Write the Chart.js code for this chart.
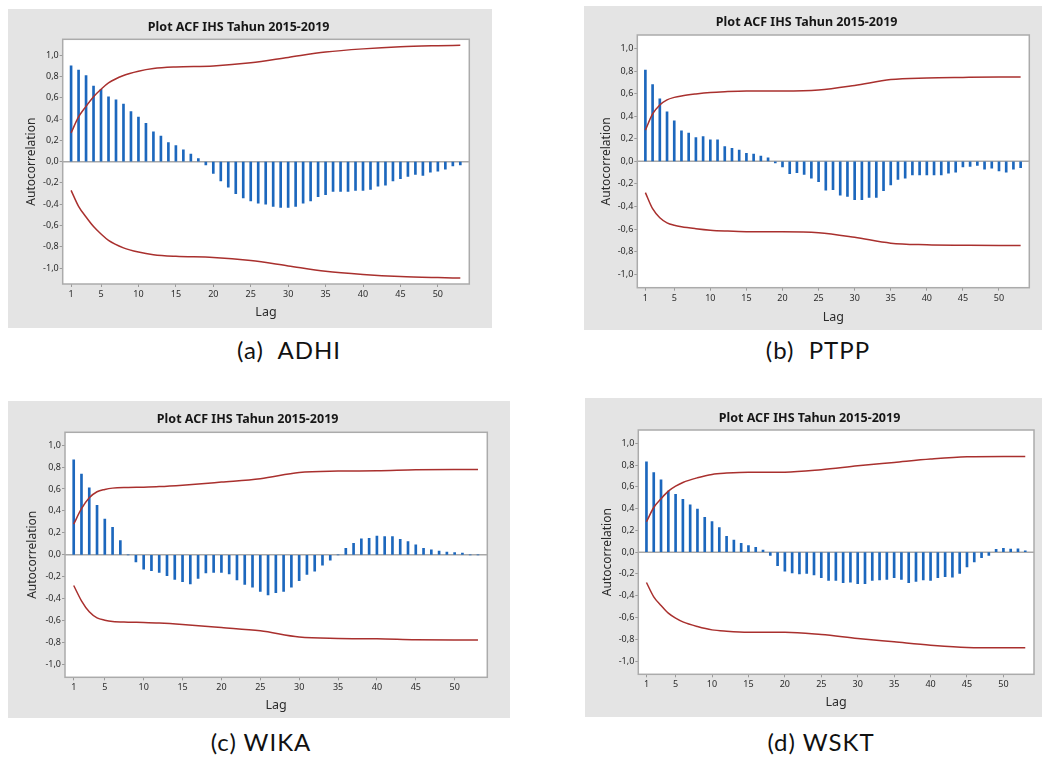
<!DOCTYPE html>
<html>
<head>
<meta charset="utf-8">
<script src="https://cdn.jsdelivr.net/npm/chart.js@4.4.1/dist/chart.umd.min.js"></script>
<style>
  html, body { margin: 0; padding: 0; background: #fff; }
  body { position: relative; width: 1042px; height: 757px; overflow: hidden; }
  .panel { position: absolute; background: #e4e4e4; }
  .panel canvas { position: absolute; left: 0; top: 0; }
  .caption { position: absolute; width: 300px; text-align: center; font-family: Lato, 'Noto Sans', sans-serif; font-size: 24px; line-height: 26px; letter-spacing: 1px; color: #111; white-space: pre; }
</style>
</head>
<body>
<script>
// ACF IHS 2015-2019, lag 1..53
const lags = [1, 2, 3, 4, 5, 6, 7, 8, 9, 10, 11, 12, 13, 14, 15, 16, 17, 18, 19, 20, 21, 22, 23, 24, 25, 26, 27,
  28, 29, 30, 31, 32, 33, 34, 35, 36, 37, 38, 39, 40, 41, 42, 43, 44, 45, 46, 47, 48, 49, 50, 51, 52, 53];

const acfADHI = [0.90, 0.86, 0.81, 0.71, 0.68, 0.61, 0.58, 0.54, 0.47, 0.42,
  0.36, 0.28, 0.24, 0.18, 0.15, 0.11, 0.07, 0.03, -0.03, -0.11,
  -0.18, -0.24, -0.30, -0.34, -0.37, -0.39, -0.40, -0.42, -0.43, -0.43,
  -0.42, -0.39, -0.37, -0.33, -0.31, -0.28, -0.28, -0.28, -0.27, -0.27,
  -0.26, -0.23, -0.22, -0.18, -0.16, -0.14, -0.12, -0.13, -0.10, -0.09,
  -0.07, -0.04, -0.03];
const acfPTPP = [0.81, 0.68, 0.555, 0.44, 0.36, 0.27, 0.25, 0.21, 0.22, 0.19,
  0.19, 0.13, 0.115, 0.10, 0.07, 0.065, 0.047, 0.032, -0.015, -0.05,
  -0.11, -0.10, -0.115, -0.15, -0.18, -0.255, -0.25, -0.30, -0.31, -0.34,
  -0.34, -0.32, -0.32, -0.26, -0.21, -0.16, -0.15, -0.12, -0.12, -0.12,
  -0.12, -0.12, -0.105, -0.095, -0.05, -0.045, -0.035, -0.07, -0.06, -0.085,
  -0.095, -0.07, -0.055];
const acfWIKA = [0.865, 0.735, 0.61, 0.45, 0.325, 0.25, 0.13, 0, -0.065, -0.13,
  -0.145, -0.16, -0.19, -0.225, -0.245, -0.265, -0.215, -0.165, -0.16, -0.16,
  -0.175, -0.23, -0.27, -0.295, -0.335, -0.365, -0.345, -0.335, -0.295, -0.235,
  -0.18, -0.15, -0.095, -0.05, 0, 0.06, 0.105, 0.145, 0.15, 0.17,
  0.165, 0.165, 0.14, 0.12, 0.09, 0.06, 0.045, 0.035, 0.025, 0.02,
  0.015, 0, 0];
const acfWSKT = [0.83, 0.73, 0.665, 0.56, 0.53, 0.485, 0.435, 0.395, 0.32, 0.28,
  0.225, 0.145, 0.11, 0.08, 0.06, 0.045, 0.02, -0.03, -0.125, -0.175,
  -0.19, -0.20, -0.195, -0.21, -0.235, -0.26, -0.26, -0.28, -0.275, -0.29,
  -0.29, -0.26, -0.255, -0.25, -0.235, -0.25, -0.28, -0.27, -0.255, -0.26,
  -0.235, -0.225, -0.23, -0.195, -0.135, -0.09, -0.05, -0.03, 0.025, 0.035,
  0.028, 0.03, 0.012];

// batas signifikansi (atas), dibaca pada lag tertentu; batas bawah = cerminannya
const limitLags = [1, 2, 3, 4, 5, 6, 8, 10, 12, 15, 20, 25, 30, 35, 40, 45, 50, 53];
const limADHI = [0.27, 0.42, 0.52, 0.61, 0.68, 0.74, 0.81, 0.85, 0.875, 0.89, 0.90, 0.93, 0.98, 1.03, 1.06, 1.08, 1.09, 1.094];
const limPTPP = [0.277, 0.42, 0.50, 0.545, 0.567, 0.58, 0.597, 0.61, 0.617, 0.623, 0.623, 0.632, 0.673, 0.725, 0.739, 0.744, 0.747, 0.747];
const limWIKA = [0.28, 0.42, 0.52, 0.575, 0.596, 0.608, 0.614, 0.617, 0.622, 0.635, 0.663, 0.693, 0.75, 0.763, 0.766, 0.775, 0.778, 0.778];
const limWSKT = [0.279, 0.41, 0.49, 0.56, 0.606, 0.64, 0.683, 0.714, 0.726, 0.735, 0.735, 0.757, 0.793, 0.824, 0.855, 0.876, 0.879, 0.879];

const xTickValues = [1, 5, 10, 15, 20, 25, 30, 35, 40, 45, 50];
const yTickValues = [-1, -0.8, -0.6, -0.4, -0.2, 0, 0.2, 0.4, 0.6, 0.8, 1];

const chartTitle = 'Plot ACF IHS Tahun 2015-2019';

// layout: rect = gray panel [x, y, w, h], box = plot frame [l, t, r, b]
const panels = [
  { id: 'acf-a', caption: '(a)  ADHI', acf: acfADHI, lim: limADHI, yMax: 1.15,
    rect: [8, 9, 484, 319], box: [62.7, 39.3, 469.3, 284], titleY: 27, lagY: 313, acX: 31.7, capX: 289, capY: 351 },
  { id: 'acf-b', caption: '(b)  PTPP', acf: acfPTPP, lim: limPTPP, yMax: 1.12,
    rect: [584, 6, 458, 324], box: [637.3, 35, 1029.3, 287.7], titleY: 22, lagY: 318, acX: 606.7, capX: 818, capY: 351 },
  { id: 'acf-c', caption: '(c) WIKA', acf: acfWIKA, lim: limWIKA, yMax: 1.117,
    rect: [8, 401, 502, 317], box: [65, 432.3, 487.3, 677.3], titleY: 419, lagY: 706, acX: 32.7, capX: 261, capY: 743 },
  { id: 'acf-d', caption: '(d) WSKT', acf: acfWSKT, lim: limWSKT, yMax: 1.122,
    rect: [585, 398, 457, 319], box: [638.3, 430, 1034, 674.3], titleY: 418, lagY: 703, acX: 608, capX: 821, capY: 743 },
];

const BAR = '#1c67bd';
const LIMIT = '#a9302e';
const FRAME = '#ababab';
const TXT = '#2b2b2b';

Chart.defaults.font.family = "'Noto Sans', 'Open Sans', sans-serif";
Chart.defaults.color = TXT;

const framePlugin = {
  id: 'acfFrame',
  beforeDraw(chart) {
    const a = chart.chartArea;
    const ctx = chart.ctx;
    ctx.save();
    ctx.fillStyle = '#fff';
    ctx.fillRect(a.left, a.top, a.right - a.left, a.bottom - a.top);
    ctx.restore();
  },
  beforeDatasetsDraw(chart) {
    const a = chart.chartArea;
    const ctx = chart.ctx;
    const y0 = chart.scales.y.getPixelForValue(0);
    ctx.save();
    ctx.strokeStyle = '#a8a8a8';
    ctx.lineWidth = 1.5;
    ctx.beginPath();
    ctx.moveTo(a.left, y0);
    ctx.lineTo(a.right, y0);
    ctx.stroke();
    ctx.restore();
  },
  afterDatasetsDraw(chart) {
    const a = chart.chartArea;
    const ctx = chart.ctx;
    ctx.save();
    ctx.strokeStyle = FRAME;
    ctx.lineWidth = 1.5;
    ctx.strokeRect(a.left, a.top, a.right - a.left, a.bottom - a.top);
    ctx.restore();
  },
};

function mountAcf(p) {
  const [px, py, pw, ph] = p.rect;
  const [bl, bt, br, bb] = p.box;

  const host = document.createElement('div');
  host.className = 'panel';
  host.style.left = px + 'px';
  host.style.top = py + 'px';
  host.style.width = pw + 'px';
  host.style.height = ph + 'px';
  const cv = document.createElement('canvas');
  cv.id = p.id;
  cv.width = pw;
  cv.height = ph;
  host.appendChild(cv);
  document.body.appendChild(host);

  const cap = document.createElement('div');
  cap.className = 'caption';
  cap.textContent = p.caption;
  cap.style.left = (p.capX - 150) + 'px';
  cap.style.top = (p.capY - 14) + 'px';
  document.body.appendChild(cap);

  const titleLH = 12.5 * 1.2;
  const axisLH = 12 * 1.2;
  const titleTop = p.titleY - py - titleLH / 2;
  const titleBottom = (bt - py) - (titleTop + titleLH);

  const bars = lags.map((l, i) => ({ x: l, y: p.acf[i] }));
  const upper = limitLags.map((l, i) => ({ x: l, y: p.lim[i] }));
  const lower = limitLags.map((l, i) => ({ x: l, y: -p.lim[i] }));

  const limitDs = (data) => ({
    type: 'line',
    data,
    borderColor: LIMIT,
    borderWidth: 1.5,
    pointRadius: 0,
    fill: false,
    cubicInterpolationMode: 'monotone',
    order: 1,
  });

  new Chart(cv, {
    type: 'bar',
    data: {
      datasets: [
        { data: bars, backgroundColor: BAR, barThickness: 2, order: 2 },
        limitDs(upper),
        limitDs(lower),
      ],
    },
    options: {
      responsive: false,
      animation: false,
      devicePixelRatio: 1,
      layout: { padding: { left: 0, top: 0, bottom: 0, right: px + pw - br } },
      plugins: {
        legend: { display: false },
        tooltip: { enabled: false },
        title: {
          display: true,
          text: chartTitle,
          color: '#161616',
          font: { size: 12.5, weight: 'bold', lineHeight: 1.2 },
          padding: { top: titleTop, bottom: titleBottom },
        },
      },
      scales: {
        x: {
          type: 'linear',
          min: -0.12,
          max: 54.2,
          offset: false,
          grid: { display: true, drawOnChartArea: false, drawTicks: true, tickLength: 3, color: '#9a9a9a', offset: false },
          border: { display: false },
          ticks: { font: { size: 9 }, padding: 2, maxRotation: 0, color: TXT },
          afterBuildTicks: (s) => { s.ticks = xTickValues.map((v) => ({ value: v })); },
          afterFit: (s) => { s.height = py + ph - bb; },
          title: {
            display: true,
            text: 'Lag',
            font: { size: 12.5, lineHeight: 1.2 },
            color: TXT,
            padding: { top: 0, bottom: (py + ph) - p.lagY - axisLH / 2 },
          },
        },
        y: {
          min: -p.yMax,
          max: p.yMax,
          grid: { display: true, drawOnChartArea: false, drawTicks: true, tickLength: 3, color: '#9a9a9a' },
          border: { display: false },
          ticks: {
            font: { size: 9 },
            padding: 1,
            color: TXT,
            callback: (v) => Number(v).toFixed(1).replace('.', ','),
          },
          afterBuildTicks: (s) => { s.ticks = yTickValues.map((v) => ({ value: v })); },
          afterFit: (s) => { s.width = bl - px; },
          title: {
            display: true,
            text: 'Autocorrelation',
            font: { size: 12, lineHeight: 1.2 },
            color: TXT,
            padding: { top: p.acX - px - axisLH / 2, bottom: 0 },
          },
        },
      },
    },
    plugins: [framePlugin],
  });
}

panels.forEach(mountAcf);
</script>
</body>
</html>
